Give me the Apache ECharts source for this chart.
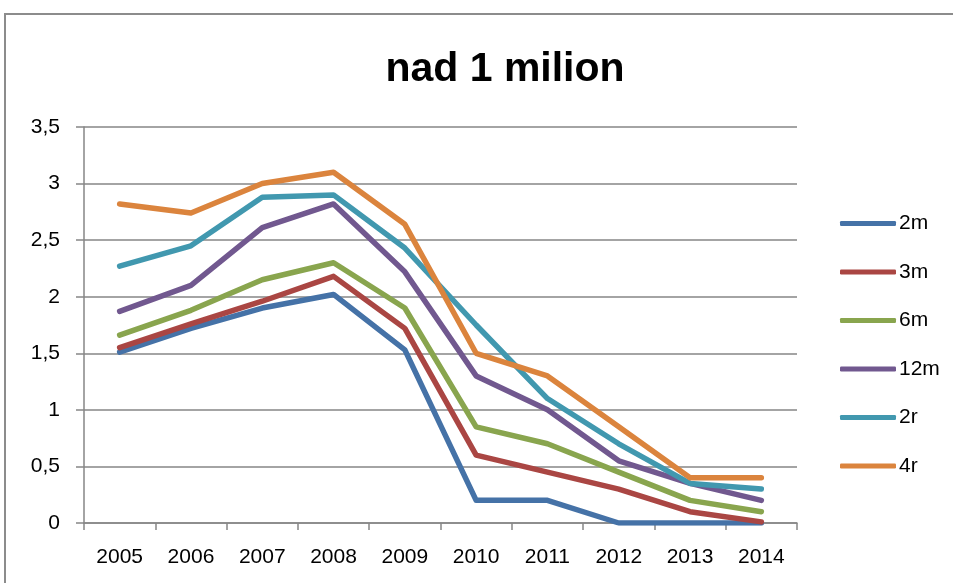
<!DOCTYPE html>
<html>
<head>
<meta charset="utf-8">
<script src="https://cdn.jsdelivr.net/npm/echarts@6/dist/echarts.min.js"></script>
<style>
  html, body { margin: 0; padding: 0; background: #fff; }
  #chart { width: 953px; height: 583px; }
</style>
</head>
<body>
<div id="chart"></div>
<script>
const years = ['2005', '2006', '2007', '2008', '2009', '2010', '2011', '2012', '2013', '2014'];

const m2  = [1.51, 1.72, 1.90, 2.02, 1.53, 0.20, 0.20, 0.00, 0.00, 0.00];
const m3  = [1.55, 1.76, 1.96, 2.18, 1.72, 0.60, 0.45, 0.30, 0.10, 0.01];
const m6  = [1.66, 1.88, 2.15, 2.30, 1.90, 0.85, 0.70, 0.45, 0.20, 0.10];
const m12 = [1.87, 2.10, 2.61, 2.82, 2.22, 1.30, 1.00, 0.55, 0.35, 0.20];
const r2  = [2.27, 2.45, 2.88, 2.90, 2.43, 1.75, 1.10, 0.70, 0.35, 0.30];
const r4  = [2.82, 2.74, 3.00, 3.10, 2.64, 1.50, 1.30, 0.85, 0.40, 0.40];

const seriesNames = ['2m', '3m', '6m', '12m', '2r', '4r'];
const seriesData = [m2, m3, m6, m12, r2, r4];
const colors = ['#4572A7', '#AA4643', '#89A54E', '#71588F', '#4198AF', '#DB843D'];

const font = 'Liberation Sans, Arial, sans-serif';

const chart = echarts.init(document.getElementById('chart'));

chart.setOption({
  animation: false,
  color: colors,
  title: {
    text: 'nad 1 milion',
    left: 500,
    textAlign: 'center',
    top: 44,
    textStyle: { fontFamily: font, fontSize: 41, fontWeight: 'bold', color: '#000' }
  },
  graphic: [{
    type: 'rect',
    shape: { x: 5, y: 14, width: 1100, height: 1000 },
    style: { fill: 'none', stroke: '#8c8c8c', lineWidth: 2 }
  }],
  legend: {
    orient: 'vertical',
    left: 835,
    top: 208,
    itemWidth: 56,
    itemHeight: 5,
    itemGap: 27.5,
    icon: 'roundRect',
    data: seriesNames,
    textStyle: { fontFamily: font, fontSize: 21, color: '#000', padding: [0, 0, 0, -2] }
  },
  grid: { left: 84, right: 156, top: 127, bottom: 60 },
  xAxis: {
    type: 'category',
    data: years,
    boundaryGap: true,
    axisLine: { lineStyle: { color: '#868686', width: 1.5 } },
    axisTick: { show: true, length: 7, lineStyle: { color: '#868686', width: 1.5 } },
    axisLabel: { fontFamily: font, fontSize: 21, color: '#000', margin: 24 }
  },
  yAxis: {
    type: 'value',
    min: 0,
    max: 3.5,
    interval: 0.5,
    axisLine: { show: true, lineStyle: { color: '#868686', width: 1.5 } },
    axisTick: { show: true, length: 8, lineStyle: { color: '#868686', width: 1.5 } },
    splitLine: { lineStyle: { color: '#868686', width: 1.5 } },
    axisLabel: {
      fontFamily: font, fontSize: 21, color: '#000', margin: 24,
      formatter: v => String(v).replace('.', ',')
    }
  },
  series: seriesNames.map((name, i) => ({
    name: name,
    type: 'line',
    data: seriesData[i],
    showSymbol: false,
    symbol: 'none',
    lineStyle: { width: 5.5, cap: 'round', join: 'round' }
  }))
});
</script>
</body>
</html>
